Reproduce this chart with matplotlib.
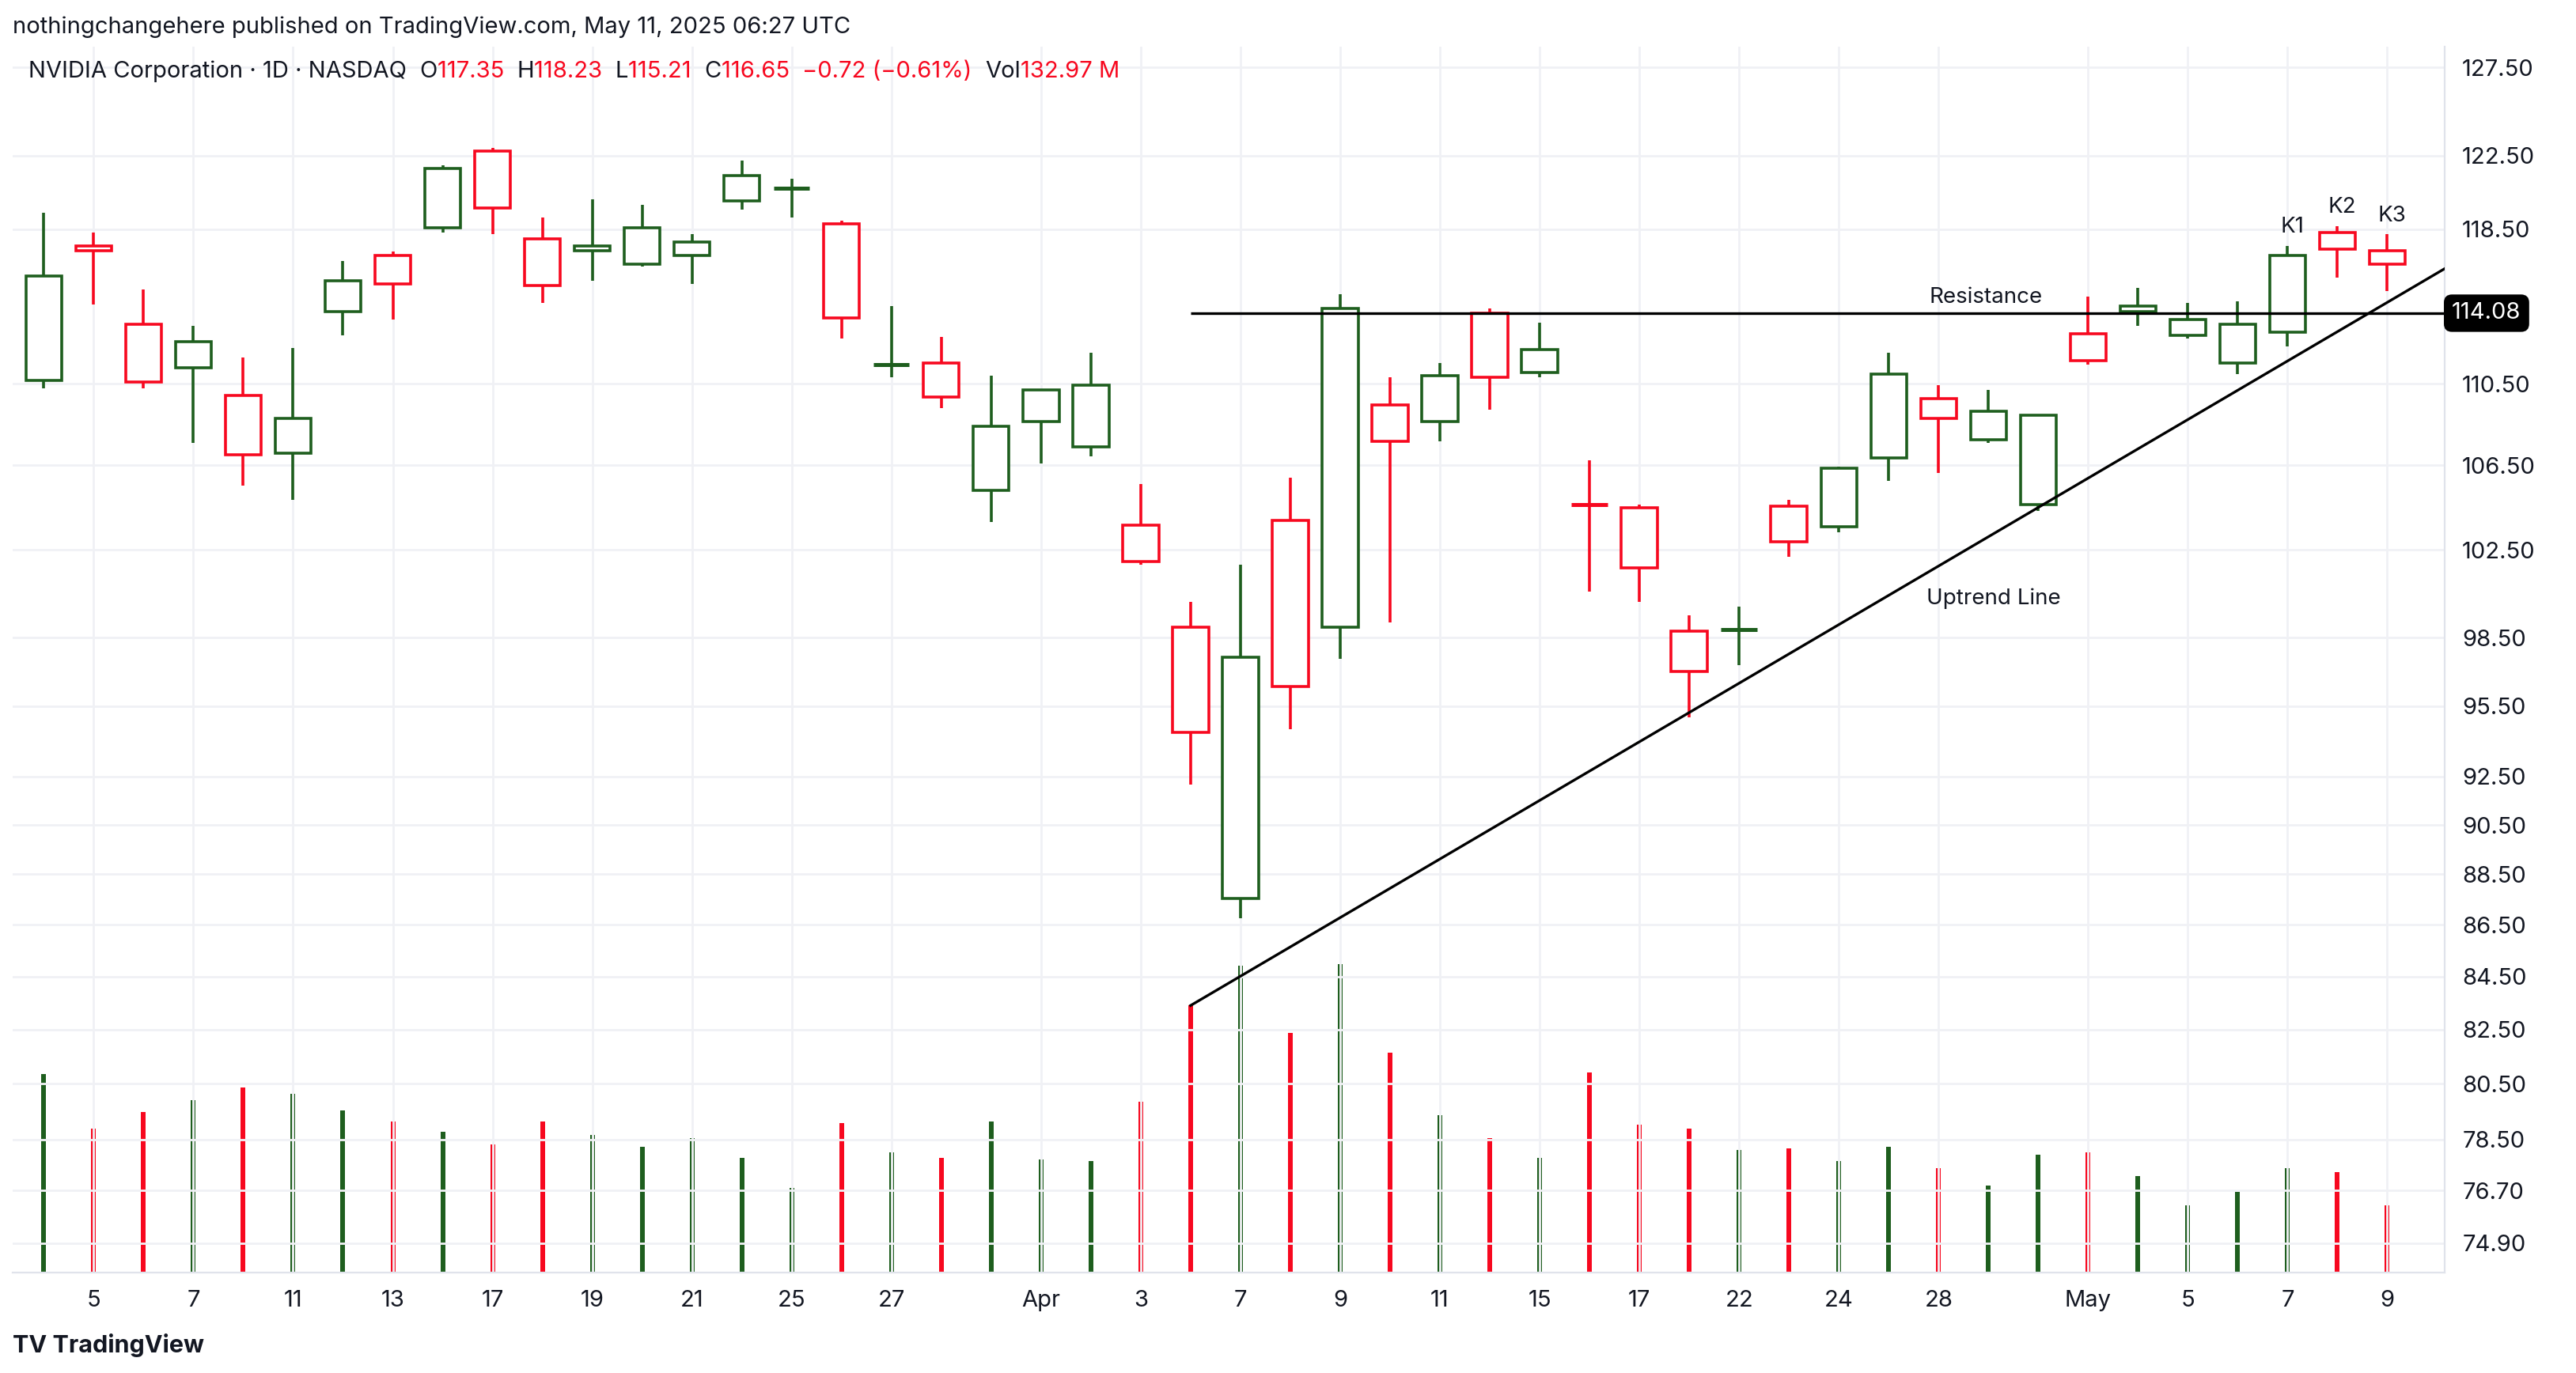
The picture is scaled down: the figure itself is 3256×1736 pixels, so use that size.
import matplotlib
matplotlib.use("Agg")
from matplotlib import pyplot as plt
import numpy as np

plt.rcParams["font.family"] = "Inter"

# trading days Mar 4 .. May 9 2025 (index positions)
opens = [110.66, 117.62, 113.51, 111.31, 109.93, 107.07, 114.17, 117.09, 118.59, 122.78,
         117.97, 117.35, 116.64, 117.09, 120.01, 120.60, 118.77, 111.39, 111.55, 105.29,
         108.62, 107.40, 103.63, 98.96, 87.53, 103.86, 98.96, 109.44, 108.62, 114.08,
         111.07, 104.69, 104.46, 98.81, 98.81, 104.54, 103.56, 106.83, 109.77, 107.72,
         104.62, 113.02, 114.17, 112.94, 111.55, 113.10, 118.32, 117.35]
highs = [119.39, 118.32, 115.32, 113.43, 111.80, 112.29, 116.82, 117.30, 121.97, 122.96,
         119.13, 120.10, 119.83, 118.23, 122.23, 121.25, 118.95, 114.43, 112.86, 110.91,
         110.17, 112.04, 105.59, 100.11, 101.81, 105.90, 115.05, 110.83, 111.55, 114.34,
         113.60, 106.74, 104.62, 99.50, 99.88, 104.84, 106.42, 112.04, 110.42, 110.17,
         108.95, 114.96, 115.41, 114.61, 114.70, 117.62, 118.68, 118.23]
lows = [110.26, 114.52, 110.26, 107.56, 105.52, 104.84, 112.94, 113.75, 118.32, 118.23,
        114.61, 115.76, 116.50, 115.59, 119.57, 119.13, 112.78, 110.83, 109.28, 103.78,
        106.58, 106.91, 101.81, 92.17, 86.76, 94.52, 97.57, 99.19, 107.64, 109.19,
        110.83, 100.58, 100.12, 95.01, 97.29, 102.19, 103.33, 105.74, 106.12, 107.56,
        104.31, 111.47, 113.43, 112.78, 110.99, 112.37, 115.94, 115.21]
closes = [116.03, 117.35, 110.58, 112.61, 106.99, 108.79, 115.76, 115.59, 121.79, 119.66,
          115.50, 117.62, 118.59, 117.80, 121.43, 120.73, 113.84, 111.47, 109.85, 108.38,
          110.17, 110.42, 101.96, 94.38, 97.64, 96.36, 114.34, 107.64, 110.91, 110.83,
          112.20, 104.62, 101.65, 97.00, 98.88, 102.88, 106.35, 110.99, 108.79, 109.11,
          108.95, 111.64, 114.43, 113.75, 113.51, 117.09, 117.44, 116.65]
volumes = [392, 285, 318, 340, 366, 353, 321, 298, 279, 253, 298, 272, 249, 266, 227, 168,
           295, 237, 227, 298, 224, 220, 337, 528, 606, 473, 609, 434, 311, 266, 227, 395,
           292, 285, 243, 246, 220, 249, 207, 172, 233, 237, 191, 133, 159, 207, 198, 133]

tick_pos = [1, 3, 5, 7, 9, 11, 13, 15, 17, 20, 22, 24, 26, 28, 30, 32, 34, 36, 38, 41, 43, 45, 47]
tick_lbl = ["5", "7", "11", "13", "17", "19", "21", "25", "27", "Apr", "3", "7", "9", "11",
            "15", "17", "22", "24", "28", "May", "5", "7", "9"]
price_ticks = [127.5, 122.5, 118.5, 110.5, 106.5, 102.5, 98.5, 95.5, 92.5, 90.5, 88.5,
               86.5, 84.5, 82.5, 80.5, 78.5, 76.7, 74.9]
resistance = 114.08
trend_x = [23, 48.15]
trend_y = [83.4, 116.4]

GREEN = "#1e5e1e"
RED = "#f7081f"
XMIN, XMAX = -0.62, 48.15

fig = plt.figure(figsize=(16.28, 8.68), dpi=200)
fig.patch.set_facecolor("white")
rect = [0.005, 0.073, 0.944, 0.893]
vax = fig.add_axes(rect)
ax = fig.add_axes(rect)
ax.patch.set_alpha(0)

x = np.arange(len(opens))
vol_colors = [GREEN if c >= o else RED for o, c in zip(opens, closes)]
vax.vlines(x, 0, volumes, colors=vol_colors, lw=2.0, antialiased=False)
vax.set_ylim(0, 2420)
vax.set_xlim(XMIN, XMAX)
vax.axis("off")

for i in range(len(opens)):
    o, c = opens[i], closes[i]
    col = GREEN if c >= o else RED
    ax.vlines(i, lows[i], highs[i], colors=col, lw=1.3, zorder=2)
    lo, hi = min(o, c), max(o, c)
    if hi - lo < 0.15:
        ax.hlines(c, i - 0.36, i + 0.36, colors=col, lw=1.8, zorder=3)
    else:
        ax.bar(i, hi - lo, bottom=lo, width=0.72, facecolor="white", edgecolor=col,
               linewidth=1.3, zorder=3)

ax.set_yscale("log")
ax.set_ylim(73.9, 128.7)
ax.set_xlim(XMIN, XMAX)
ax.yaxis.tick_right()
ax.set_yticks(price_ticks)
ax.set_yticklabels([f"{p:.2f}" for p in price_ticks])
ax.yaxis.set_minor_locator(matplotlib.ticker.NullLocator())
ax.set_xticks(tick_pos)
ax.set_xticklabels(tick_lbl)
ax.tick_params(length=0, labelsize=10.5, colors="#131722", pad=8)
ax.grid(True, color="#f0f1f5", lw=1, zorder=0)
for s in ["top", "left"]:
    ax.spines[s].set_visible(False)
for s in ["bottom", "right"]:
    ax.spines[s].set_color("#e0e3eb")

ax.hlines(resistance, 23, XMAX, colors="black", lw=1.2, zorder=4)
ax.plot(trend_x, trend_y, color="black", lw=1.2, zorder=4)
ax.text(1.003, resistance, f"{resistance:.2f}", transform=ax.get_yaxis_transform(),
        va="center", ha="left", fontsize=10.5, color="white",
        bbox=dict(boxstyle="round,pad=0.3", fc="black", ec="black"))

ax.text(38.95, 114.6, "Resistance", ha="center", fontsize=10, color="#131722")
ax.text(39.1, 100.0, "Uptrend Line", ha="center", fontsize=10, color="#131722")
for i, lab in zip([45, 46, 47], ["K1", "K2", "K3"]):
    ax.text(i + 0.1, highs[i] + 0.7, lab, ha="center", fontsize=10, color="#131722")

fig.text(0.005, 0.98, "nothingchangehere published on TradingView.com, May 11, 2025 06:27 UTC",
         fontsize=10.5, color="#131722", va="center")

parts = [("NVIDIA Corporation · 1D · NASDAQ  ", "#131722"), ("O", "#131722"), ("117.35  ", RED),
         ("H", "#131722"), ("118.23  ", RED), ("L", "#131722"), ("115.21  ", RED),
         ("C", "#131722"), ("116.65  ", RED), ("−0.72 (−0.61%)  ", RED),
         ("Vol", "#131722"), ("132.97 M", RED)]
fig.canvas.draw()
xpos = 0.011
r = fig.canvas.get_renderer()
for txt, col in parts:
    t = fig.text(xpos, 0.948, txt, fontsize=10.5, color=col, va="center")
    bb = t.get_window_extent(renderer=r)
    xpos += bb.width / fig.bbox.width

fig.text(0.005, 0.02, "TV TradingView", fontsize=11, fontweight="bold", color="#131722",
         va="center")

fig.savefig("out.png", dpi=200, facecolor="white")
